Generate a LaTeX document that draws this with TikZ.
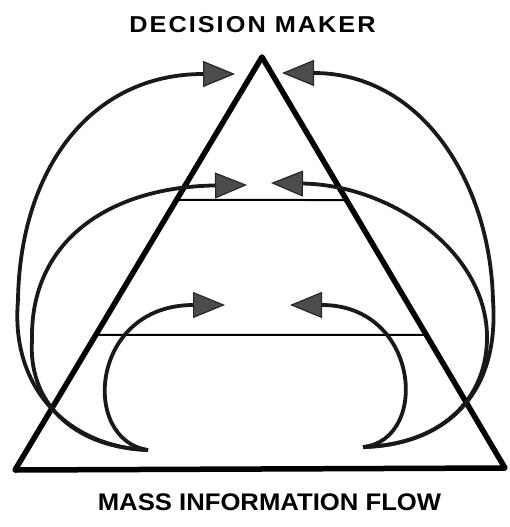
\documentclass[tikz,border=0pt]{standalone}
\usepackage{fontspec}
\newfontfamily\labfont{Liberation Sans}
\usetikzlibrary{arrows.meta,calc}
\tikzset{
  tri/.style={line width=5.5pt, line join=round, draw=black},
  levelline/.style={line width=2pt, draw=black},
  flow/.style={line width=3.8pt, draw=black!90,
    -{Triangle[length=32pt,width=26pt,line width=1.2pt,color=black!85,fill=black!70]}},
  title/.style={font=\labfont\bfseries\fontsize{23}{28}\selectfont, inner sep=0pt},
}
\begin{document}
\begin{tikzpicture}[x=1pt,y=-1pt]
\useasboundingbox (0,0) rectangle (509,527);
% triangle corners
\coordinate (A) at (262,57);
\coordinate (L) at (15,470);
\coordinate (R) at (505,468);
\draw[tri] (A) -- (L) -- (R) -- cycle;
% levels
\coordinate (U1) at ($(A)!0.346!(L)$);
\coordinate (U2) at ($(A)!0.348!(R)$);
\coordinate (M1) at ($(A)!0.673!(L)$);
\coordinate (M2) at ($(A)!0.676!(R)$);
\draw[levelline] (U1) -- (U2);
\draw[levelline] (M1) -- (M2);
% flow end points
\coordinate (LS) at (148,450);
\coordinate (RS) at (363,447);
\coordinate (LO) at (18,300);
\coordinate (LM) at (32,340);
\coordinate (RO) at (493,300);
\coordinate (RM) at (487,335);
\coordinate (T1) at (235,74);
\coordinate (T2) at (247,185);
\coordinate (T3) at (225,305);
\coordinate (S1) at (282,73);
\coordinate (S2) at (271,183);
\coordinate (S3) at (290,305);
% left flows
\draw[flow] (LS) .. controls (70,447) and (10,390) .. (LO)
                 .. controls (20,170) and (90,74) .. (T1);
\draw[flow] (LS) .. controls (70,447) and (28,400) .. (LM)
                 .. controls (30,240) and (110,187) .. (T2);
\draw[flow] (LS) .. controls (80,440) and (90,305) .. (T3);
% right flows
\draw[flow] (RS) .. controls (440,445) and (500,400) .. (RO)
                 .. controls (490,180) and (420,73) .. (S1);
\draw[flow] (RS) .. controls (440,445) and (488,400) .. (RM)
                 .. controls (485,250) and (390,185) .. (S2);
\draw[flow] (RS) .. controls (430,440) and (420,305) .. (S3);
% labels
\node[title] (top) at (252.5,25) {\scalebox{1.1}[1]{\addfontfeature{LetterSpace=8}DECISION MAKER}};
\node[title, font=\labfont\bfseries\fontsize{24}{28}\selectfont] (bottom) at (269.5,502.5) {\scalebox{1.07}[1]{MASS INFORMATION FLOW}};
\end{tikzpicture}
\end{document}
